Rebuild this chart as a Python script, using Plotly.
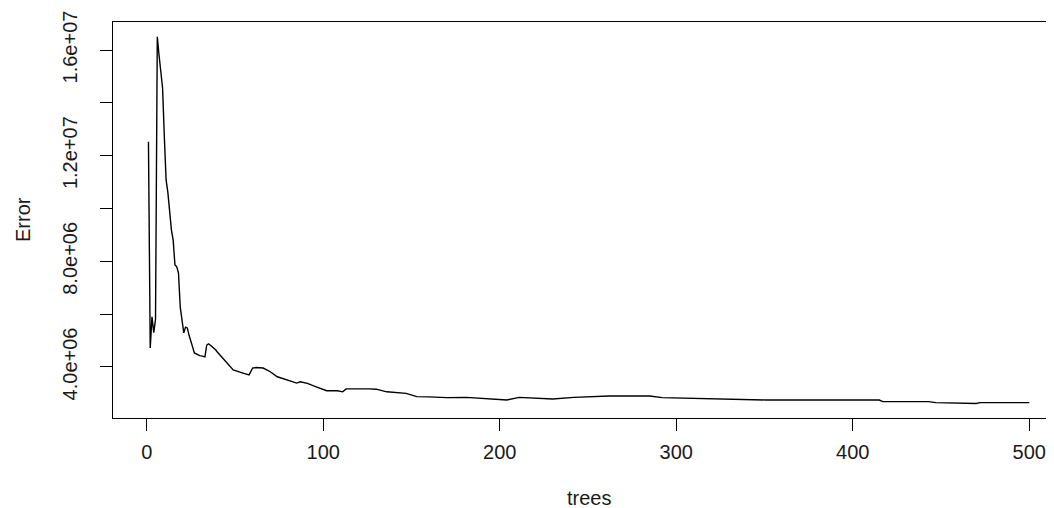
import plotly.graph_objects as go

# Error by number of trees
trees = [1, 2, 3, 4, 5, 6, 7, 8, 9, 10,
         11, 12, 13, 14, 15, 16, 17, 18, 19, 20,
         21, 22, 23, 24, 25, 26, 27, 28, 29, 30,
         31, 32, 33, 34, 35, 36, 37, 38, 39, 40,
         45, 49, 55, 58, 60, 62, 66, 70, 74, 79,
         85, 87, 91, 96, 102, 108, 111, 113, 120, 126,
         130, 136, 147, 153, 160, 170, 181, 192, 204, 211,
         220, 230, 242, 253, 262, 275, 285, 292, 311, 325,
         342, 351, 380, 415, 417, 443, 447, 470, 472, 500]
error = [12.53e6, 4.72e6, 5.9e6, 5.3e6, 5.8e6, 16.5e6, 15.8e6, 15.05e6, 14.56e6, 12.7e6,
         11.08e6, 10.6e6, 9.75e6, 9.19e6, 8.8e6, 7.86e6, 7.8e6, 7.56e6, 6.27e6, 5.67e6,
         5.29e6, 5.51e6, 5.48e6, 5.2e6, 5.02e6, 4.76e6, 4.53e6, 4.49e6, 4.45e6, 4.43e6,
         4.42e6, 4.4e6, 4.38e6, 4.83e6, 4.88e6, 4.83e6, 4.78e6, 4.72e6, 4.65e6, 4.57e6,
         4.2e6, 3.89e6, 3.76e6, 3.7e6, 3.96e6, 3.98e6, 3.96e6, 3.82e6, 3.63e6, 3.51e6,
         3.39e6, 3.44e6, 3.38e6, 3.25e6, 3.1e6, 3.1e6, 3.06e6, 3.17e6, 3.18e6, 3.17e6,
         3.16e6, 3.06e6, 3.0e6, 2.88e6, 2.87e6, 2.84e6, 2.85e6, 2.79e6, 2.75e6, 2.85e6,
         2.83e6, 2.79e6, 2.85e6, 2.88e6, 2.9e6, 2.9e6, 2.9e6, 2.84e6, 2.82e6, 2.8e6,
         2.78e6, 2.75e6, 2.75e6, 2.75e6, 2.69e6, 2.69e6, 2.65e6, 2.62e6, 2.65e6, 2.65e6]

x_ticks = [0, 100, 200, 300, 400, 500]
y_ticks = [4e6, 6e6, 8e6, 10e6, 12e6, 14e6, 16e6]
y_tick_text = ["4.0e+06", "", "8.0e+06", "", "1.2e+07", "", "1.6e+07"]

FONT = "Liberation Sans, Arial, sans-serif"
INK = "#1a1a1a"

fig = go.Figure()
fig.add_trace(go.Scatter(x=trees, y=error, mode="lines",
                         line=dict(color="black", width=1.4),
                         showlegend=False, hoverinfo="skip"))

fig.update_layout(
    width=1046, height=500,
    margin=dict(l=105, r=0, t=14, b=90),
    paper_bgcolor="white", plot_bgcolor="white",
    font=dict(family=FONT, size=20, color=INK),
    showlegend=False,
    xaxis=dict(range=[-19.09, 514.0], tickmode="array", tickvals=x_ticks,
               ticks="outside", ticklen=12, tickwidth=1, tickcolor="black",
               showline=True, linecolor="black", linewidth=1, mirror=True,
               showgrid=False, zeroline=False, ticklabelstandoff=4,
               tickfont=dict(family=FONT, size=20, color=INK)),
    yaxis=dict(range=[2.069e6, 17.06e6], tickmode="array", tickvals=y_ticks,
               ticktext=y_tick_text, tickangle=-90,
               ticks="outside", ticklen=12, tickwidth=1, tickcolor="black",
               showline=True, linecolor="black", linewidth=1, mirror=False,
               showgrid=False, zeroline=False, ticklabelstandoff=15,
               tickfont=dict(family=FONT, size=20, color=INK)),
    annotations=[
        dict(text="trees", xref="paper", yref="paper", x=0.506, y=0,
             yshift=-80, xanchor="center", yanchor="middle", showarrow=False,
             font=dict(family=FONT, size=20, color=INK)),
        dict(text="Error", xref="paper", yref="paper", x=0, y=0.5,
             xshift=-90, xanchor="center", yanchor="middle", textangle=-90,
             showarrow=False, font=dict(family=FONT, size=20, color=INK)),
    ],
)

fig.write_html("out.html")
